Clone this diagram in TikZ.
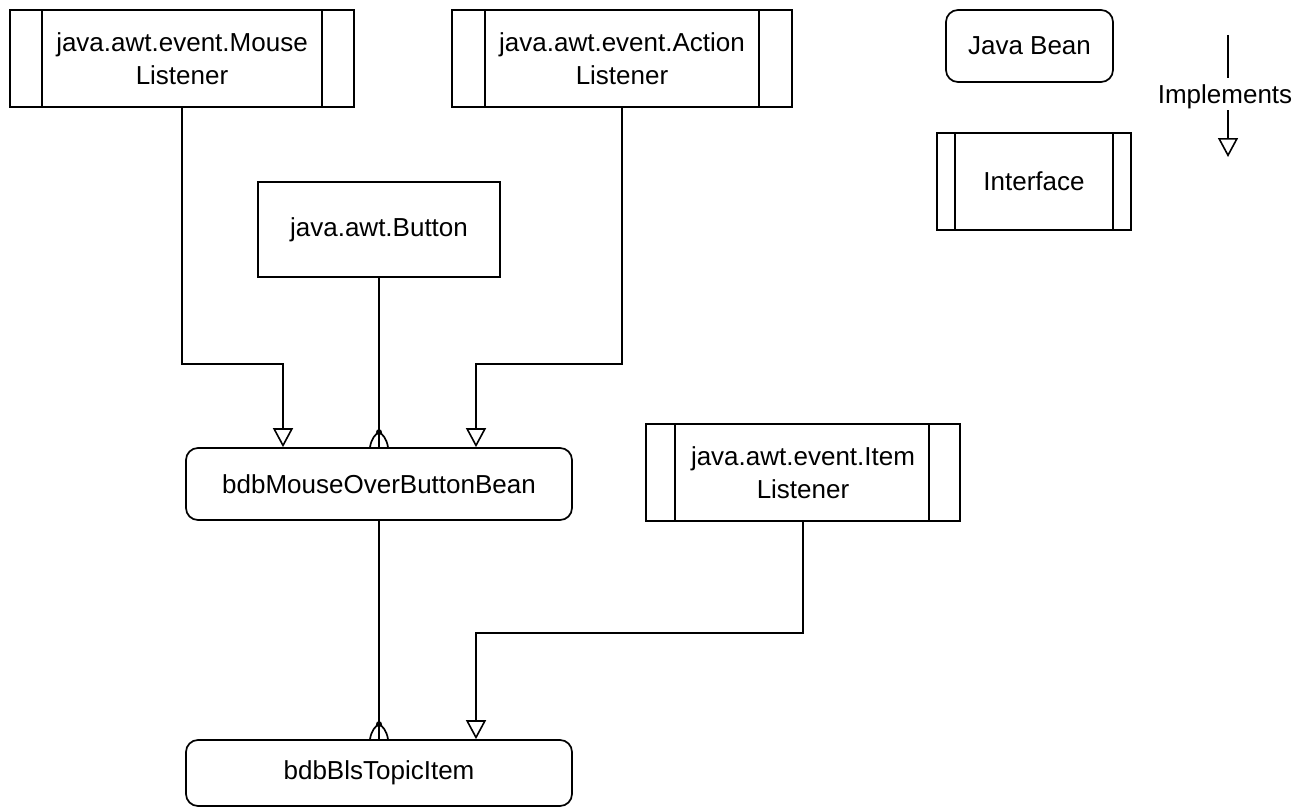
\documentclass[tikz,border=0pt]{standalone}
\usepackage{fontspec}
\setmainfont{Liberation Sans}
\usetikzlibrary{arrows.meta,calc}

\tikzset{
  lbl/.style={font=\fontsize{26}{33}\selectfont, align=center, inner sep=0pt},
  wire/.style={line width=1.7pt},
  box/.style={lbl, draw, line width=1.7pt, rectangle},
  bean/.style={box, rounded corners=12pt},
  iface/.style={box},
  impl/.style={wire, -{Triangle[open, length=19pt, width=20pt, line width=1.6pt]}},
}

% inner side bars of an interface box
\newcommand\ifacebars[3]{%
  \draw[wire] ([xshift=#2]#1.north west) -- ([xshift=#2]#1.south west);
  \draw[wire] ([xshift=-#3]#1.north east) -- ([xshift=-#3]#1.south east);}

% "extends" marker: a small arch with a dot on top, sitting on a box edge
\newcommand\extmark[1]{%
  \draw[wire] (#1) ++(-9,0) .. controls +(1.5,-9) and +(-3.5,2) .. ++(9,-15)
              .. controls +(3.5,2) and +(-1.5,-9) .. ++(9,15);
  \fill (#1) ++(0,-15) circle (3pt);}

\begin{document}
\begin{tikzpicture}[x=1pt, y=-1pt]
\useasboundingbox (0,0) rectangle (1301,808);

% classes and interfaces
\node[iface, minimum width=344pt, minimum height=97pt] (ml) at (182,58.5) {java.awt.event.Mouse\\Listener};
\ifacebars{ml}{33pt}{33pt}
\node[iface, minimum width=340pt, minimum height=97pt] (al) at (622,58.5) {java.awt.event.Action\\Listener};
\ifacebars{al}{34pt}{34pt}
\node[box, minimum width=242pt, minimum height=95pt] (btn) at (379,229.5) {java.awt.Button};
\node[bean, minimum width=386pt, minimum height=72pt] (mob) at (379,484) {bdbMouseOverButtonBean};
\node[iface, minimum width=314pt, minimum height=97pt] (il) at (803,472.5) {java.awt.event.Item\\Listener};
\ifacebars{il}{30pt}{32pt}
\node[bean, minimum width=386pt, minimum height=66pt] (bti) at (379,773) {bdbBlsTopicItem};

% legend
\node[bean, minimum width=167pt, minimum height=72pt] (jb) at (1029.5,46) {Java Bean};
\node[iface, minimum width=194pt, minimum height=97pt] (itf) at (1034,181.5) {Interface};
\ifacebars{itf}{19pt}{19pt}
\node[lbl] (implabel) at (1225,97) {Implements};
\coordinate (lt) at (1228,35);
\coordinate (lb) at (1228,157);
\draw[wire] (lt) -- ([xshift=3pt,yshift=7pt]implabel.north);
\draw[impl] ([xshift=3pt,yshift=-1pt]implabel.south) -- (lb);

% implements relations
\draw[impl] (ml.south) -- ++(0,256) -| ([xshift=-96pt]mob.north);
\draw[impl] (al.south) -- ++(0,256) -| ([xshift=97pt]mob.north);
\draw[impl] (il.south) -- ++(0,111) -| ([xshift=97pt]bti.north);

% extends relations
\coordinate (e1) at (btn.south |- mob.north);
\draw[wire] (btn.south) -- (e1);
\extmark{e1}
\coordinate (e2) at (mob.south |- bti.north);
\draw[wire] (mob.south) -- (e2);
\extmark{e2}
\end{tikzpicture}
\end{document}
